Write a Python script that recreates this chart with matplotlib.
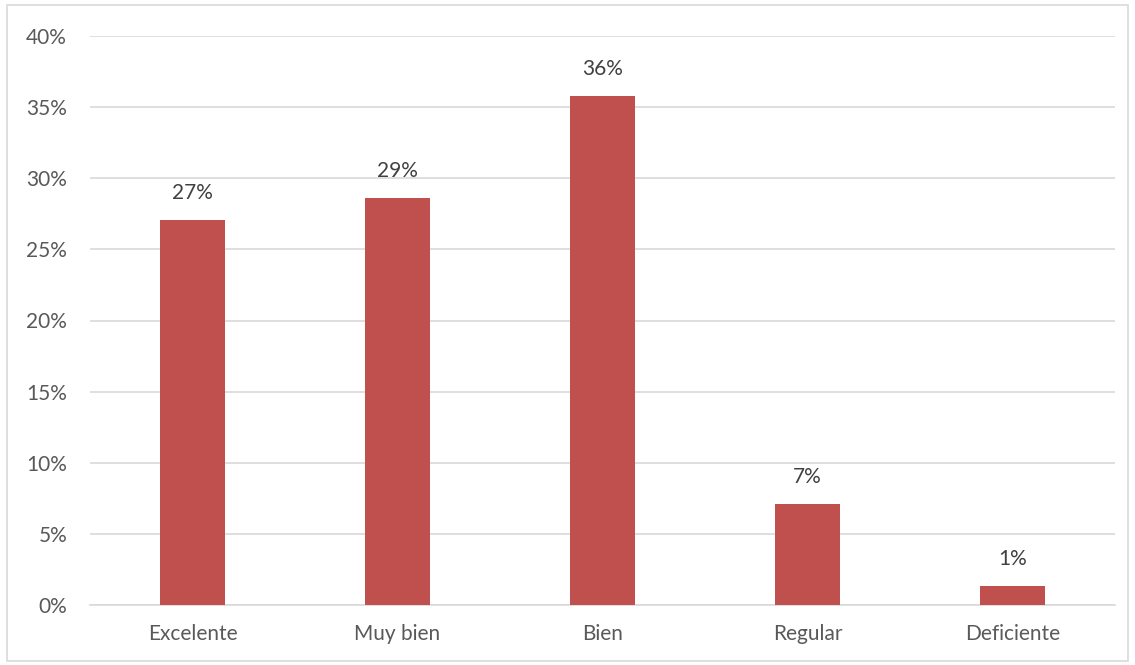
import matplotlib
matplotlib.use("Agg")
import matplotlib.pyplot as plt
from matplotlib.patches import Rectangle
from matplotlib.ticker import FuncFormatter

categories = ["Excelente", "Muy bien", "Bien", "Regular", "Deficiente"]
values = [27.1, 28.6, 35.8, 7.1, 1.35]
labels = ["27%", "29%", "36%", "7%", "1%"]

plt.rcParams['font.family'] = ['Lato', 'DejaVu Sans']
W, H = 1135, 665
fig = plt.figure(figsize=(W/100, H/100), dpi=100)
ax = fig.add_axes([90/W, 1-605/H, (1115-90)/W, (605-36)/H])

x = range(len(categories))
ax.bar(x, values, width=0.317, color="#C0504D", zorder=3)
for xi, v, l in zip(x, values, labels):
    ax.annotate(l, (xi, v), xytext=(0, 12), textcoords="offset points",
                ha="center", va="bottom", fontsize=15, color="#404040")

ax.set_xlim(-0.5, len(categories)-0.5)
ax.set_ylim(0, 40)
ax.set_yticks(range(0, 41, 5))
ax.yaxis.set_major_formatter(FuncFormatter(lambda v, p: f"{int(v)}%"))
ax.set_xticks(list(x))
ax.set_xticklabels(categories)
ax.tick_params(axis='both', length=0, labelsize=15, labelcolor="#595959")
ax.tick_params(axis='y', pad=16.5)
ax.tick_params(axis='x', pad=14)
ax.grid(axis='y', color="#D9D9D9", linewidth=1.2, zorder=0)
for s in ["top", "right", "left"]:
    ax.spines[s].set_visible(False)
ax.spines["bottom"].set_color("#D9D9D9")
ax.spines["bottom"].set_linewidth(1.2)

fig.patches.append(Rectangle((7/W, 1-661/H), (1128-7)/W, (661-5)/H, transform=fig.transFigure,
                             fill=False, edgecolor="#D9D9D9", linewidth=1.2))
fig.savefig("out.png", dpi=100)
